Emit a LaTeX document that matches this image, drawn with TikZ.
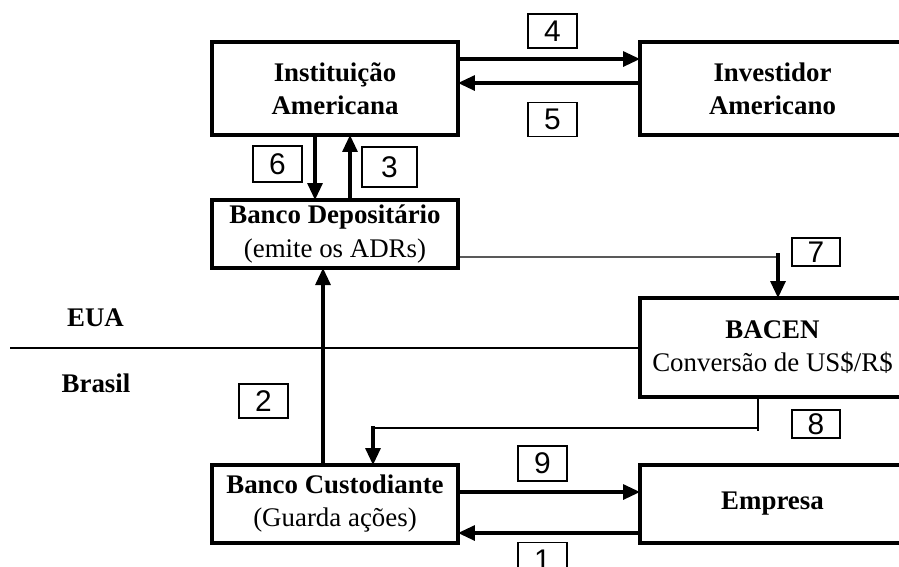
\documentclass[tikz,border=0pt]{standalone}
\usepackage{fontspec}
\setmainfont{Liberation Serif}
\newfontfamily\numfont{Liberation Sans}
\usetikzlibrary{arrows.meta}

\begin{document}
\begin{tikzpicture}[x=0.02cm, y=-0.02cm,
  box/.style={draw, line width=2.2pt, align=center, inner sep=0pt, outer sep=0pt, font=\fontsize{15.3}{18.8}\selectfont},
  num/.style={draw, line width=0.7pt, inner sep=0pt, minimum width=0.98cm, minimum height=0.68cm, font=\numfont\fontsize{17}{17}\selectfont},
  arr/.style={line width=1.8pt, -{Triangle[length=0.34cm,width=0.3cm]}},
  fio/.style={line width=0.8pt}]
\useasboundingbox (0,0) rectangle (899,566);
\clip (0,0) rectangle (899,566);

\node[box, minimum width=4.92cm, minimum height=1.86cm] (inst) at (335,88.5) {\textbf{Instituição}\\\textbf{Americana}};
\node[box, minimum width=5.3cm, minimum height=1.86cm] (inv) at (772.5,88.5) {\textbf{Investidor}\\\textbf{Americano}};
\node[box, minimum width=4.92cm, minimum height=1.36cm] (dep) at (335,234) {\textbf{Banco Depositário}\\(emite os ADRs)};
\node[box, minimum width=5.3cm, minimum height=1.98cm] (bacen) at (772.5,347.5) {\textbf{BACEN}\\Conversão de US\$/R\$};
\node[box, minimum width=4.92cm, minimum height=1.56cm] (cust) at (335,504) {\textbf{Banco Custodiante}\\(Guarda ações)};
\node[box, minimum width=5.3cm, minimum height=1.56cm] (emp) at (772.5,504) {\textbf{Empresa}};

\node[font=\fontsize{15.3}{17}\selectfont\bfseries] (eua) at (95.5,318) {EUA};
\node[font=\fontsize{15.3}{17}\selectfont\bfseries] (br) at (96,383) {Brasil};

\node[num] (n4) at (552.5,31) {4};
\node[num] (n5) at (552.5,119.5) {5};
\node[num, minimum height=0.72cm] (n6) at (277.5,164) {6};
\node[num, minimum width=1.1cm, minimum height=0.8cm] (n3) at (389.5,167) {3};
\node[num, minimum width=0.96cm, minimum height=0.56cm] (n7) at (816,252) {7};
\node[num, minimum width=0.96cm, minimum height=0.56cm] (n8) at (816,424) {8};
\node[num] (n2) at (263.5,401) {2};
\node[num, minimum height=0.7cm] (n9) at (542.5,463.5) {9};
\node[num, minimum height=0.7cm] (n1) at (542.5,560) {1};

\coordinate (w) at (10,348);
\coordinate (c7) at (778,257);
\coordinate (c8) at (373,428);

\draw[arr] ([yshift=0.59cm]inst.east) -- ([yshift=0.59cm]inv.west);
\draw[arr] ([yshift=0.11cm]inv.west) -- ([yshift=0.11cm]inst.east);
\draw[arr] ([xshift=-0.4cm]inst.south) -- ([xshift=-0.4cm]dep.north);
\draw[arr] ([xshift=0.3cm]dep.north) -- ([xshift=0.3cm]inst.south);
\draw[arr] ([xshift=-0.24cm]cust.north) -- ([xshift=-0.24cm]dep.south);
\draw[arr] ([yshift=0.24cm]cust.east) -- ([yshift=0.24cm]emp.west);
\draw[arr] ([yshift=-0.58cm]emp.west) -- ([yshift=-0.58cm]cust.east);
\draw[fio] ([yshift=-0.46cm]dep.east) -- (c7);
\draw[arr] ([yshift=0.08cm]c7) -- (c7 |- bacen.north);
\draw[fio] ([xshift=-0.29cm]bacen.south) -- ++(0,34) (c8) -| ([xshift=-0.29cm]bacen.south);
\draw[arr] ([yshift=0.04cm]c8) -- (c8 |- cust.north);
\draw[fio] (w) -- (w -| bacen.west);
\end{tikzpicture}
\end{document}
